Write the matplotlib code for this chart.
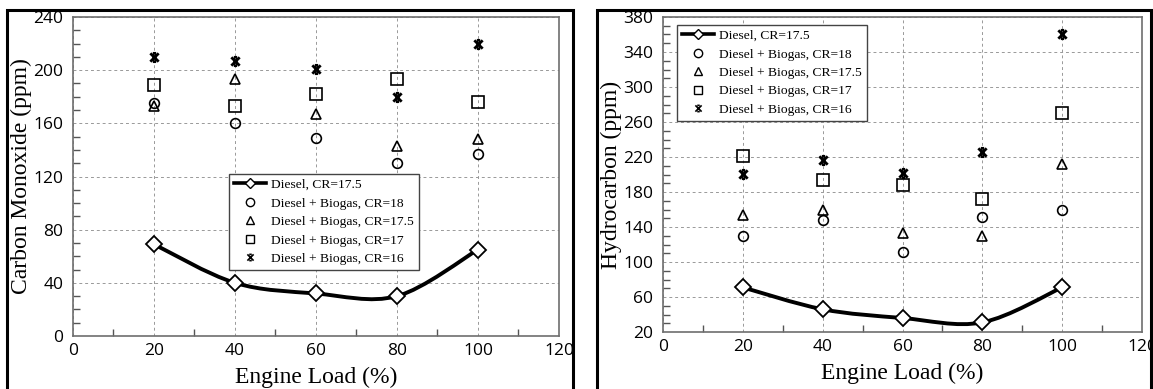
import numpy as np
import matplotlib
matplotlib.use("Agg")
import matplotlib.pyplot as plt
from matplotlib.path import Path
from matplotlib.patches import PathPatch, Rectangle
from matplotlib.lines import Line2D
from matplotlib.ticker import MultipleLocator

# engine load (%)
load = [20, 40, 60, 80, 100]

# carbon monoxide (ppm)
co_diesel = [69, 40, 32, 30, 65]
co_cr18 = [175, 160, 149, 130, 137]
co_cr175 = [173, 193, 167, 143, 148]
co_cr17 = [189, 173, 182, 193, 176]
co_cr16 = [210, 207, 201, 180, 220]

# hydrocarbon (ppm)
hc_diesel = [71, 46, 36, 31, 71]
hc_cr18 = [130, 148, 111, 151, 160]
hc_cr175 = [154, 160, 133, 130, 212]
hc_cr17 = [221, 194, 188, 172, 270]
hc_cr16 = [201, 217, 202, 226, 361]

labels = ["Diesel, CR=17.5", "Diesel + Biogas, CR=18", "Diesel + Biogas, CR=17.5",
          "Diesel + Biogas, CR=17", "Diesel + Biogas, CR=16"]

SERIF = "Liberation Serif"
SANS = "Open Sans"

# asterisk-like marker: an X with short bars on top and bottom
star_marker = Path(
    [(-1, -1), (1, 1), (-1, 1), (1, -1), (-0.4, 1), (0.4, 1), (-0.4, -1), (0.4, -1)],
    [Path.MOVETO, Path.LINETO, Path.MOVETO, Path.LINETO,
     Path.MOVETO, Path.LINETO, Path.MOVETO, Path.LINETO])


def smooth_path(x, y):
    # Catmull-Rom curve through the points, drawn as cubic Bezier segments
    x = np.asarray(x, float)
    y = np.asarray(y, float)
    n = len(x)
    verts = [(x[0], y[0])]
    codes = [Path.MOVETO]
    for i in range(n - 1):
        x0, y0 = (x[i - 1], y[i - 1]) if i > 0 else (x[i], y[i])
        x3, y3 = (x[i + 2], y[i + 2]) if i + 2 < n else (x[i + 1], y[i + 1])
        c1 = (x[i] + (x[i + 1] - x0) / 6, y[i] + (y[i + 1] - y0) / 6)
        c2 = (x[i + 1] - (x3 - x[i]) / 6, y[i + 1] - (y3 - y[i]) / 6)
        verts += [c1, c2, (x[i + 1], y[i + 1])]
        codes += [Path.CURVE4] * 3
    return Path(verts, codes)


def draw_panel(ax, diesel, s18, s175, s17, s16, yticks, ylabel, leg_anchor):
    ax.add_patch(PathPatch(smooth_path(load, diesel), fill=False, lw=2.8,
                           ec="black", zorder=3))
    ax.plot(load, diesel, ls="none", marker="D", ms=8, mfc="white", mec="black",
            mew=1.3, zorder=4)
    ax.plot(load, s18, ls="none", marker="o", ms=7, mfc="none", mec="black", mew=1.2)
    ax.plot(load, s175, ls="none", marker="^", ms=7, mfc="none", mec="black", mew=1.2)
    ax.plot(load, s17, ls="none", marker="s", ms=8, mfc="none", mec="black", mew=1.2)
    ax.plot(load, s16, ls="none", marker=star_marker, ms=6, mfc="none", mec="black",
            mew=2.0)

    ax.set_xlim(0, 120)
    ax.set_ylim(yticks[0], yticks[-1])
    ax.xaxis.set_major_locator(MultipleLocator(20))
    ax.xaxis.set_minor_locator(MultipleLocator(10))
    ax.set_yticks(yticks)
    ax.yaxis.set_minor_locator(MultipleLocator(10))
    ax.tick_params(which="both", direction="in", color="#555555")
    ax.tick_params(which="major", length=0, labelsize=12.5, labelfontfamily=SANS)
    ax.tick_params(axis="y", which="major", pad=7)
    ax.tick_params(axis="x", which="major", pad=5)
    ax.tick_params(which="minor", length=5, width=1)
    ax.grid(True, which="major", ls=(0, (3, 3)), lw=0.7, color="#999999")
    for sp in ax.spines.values():
        sp.set_color("#6e6e6e")
        sp.set_linewidth(1.2)

    ax.set_xlabel("Engine Load (%)", family=SERIF, fontsize=17, labelpad=6)
    ax.set_ylabel(ylabel, family=SERIF, fontsize=17, labelpad=1)

    handles = [
        Line2D([], [], color="black", lw=2.6, marker="D", ms=5, mfc="white", mec="black"),
        Line2D([], [], ls="none", marker="o", ms=6, mfc="none", mec="black"),
        Line2D([], [], ls="none", marker="^", ms=6, mfc="none", mec="black"),
        Line2D([], [], ls="none", marker="s", ms=6, mfc="none", mec="black"),
        Line2D([], [], ls="none", marker=star_marker, ms=4.5, mfc="none", mec="black", mew=1.2),
    ]
    leg = ax.legend(handles, labels, loc="upper left", bbox_to_anchor=leg_anchor,
                    fancybox=False, framealpha=1, edgecolor="#444444",
                    prop={"family": SERIF, "size": 9.7}, labelspacing=0.45,
                    handlelength=2.4, handletextpad=0.4, borderpad=0.35,
                    borderaxespad=0)
    leg.get_frame().set_linewidth(1.0)


fig = plt.figure(figsize=(11.53, 3.89), dpi=100)
ax1 = fig.add_axes([0.0633, 0.1362, 0.4215, 0.8201])
ax2 = fig.add_axes([0.575, 0.1465, 0.4155, 0.8098])

draw_panel(ax1, co_diesel, co_cr18, co_cr175, co_cr17, co_cr16,
           np.arange(0, 241, 40), "Carbon Monoxide (ppm)", (0.321, 0.508))
draw_panel(ax2, hc_diesel, hc_cr18, hc_cr175, hc_cr17, hc_cr16,
           np.arange(20, 381, 40), "Hydrocarbon (ppm)", (0.029, 0.975))

# black frames around each panel
W, H = 1153, 389
for x0, x1 in [(7, 573), (597, 1151)]:
    fig.patches.append(Rectangle((x0 / W, -0.05), (x1 - x0) / W, 1.05 - 10 / H,
                                 transform=fig.transFigure, fill=False,
                                 ec="black", lw=2.2, clip_on=False))

fig.savefig("out.png", dpi=100)
